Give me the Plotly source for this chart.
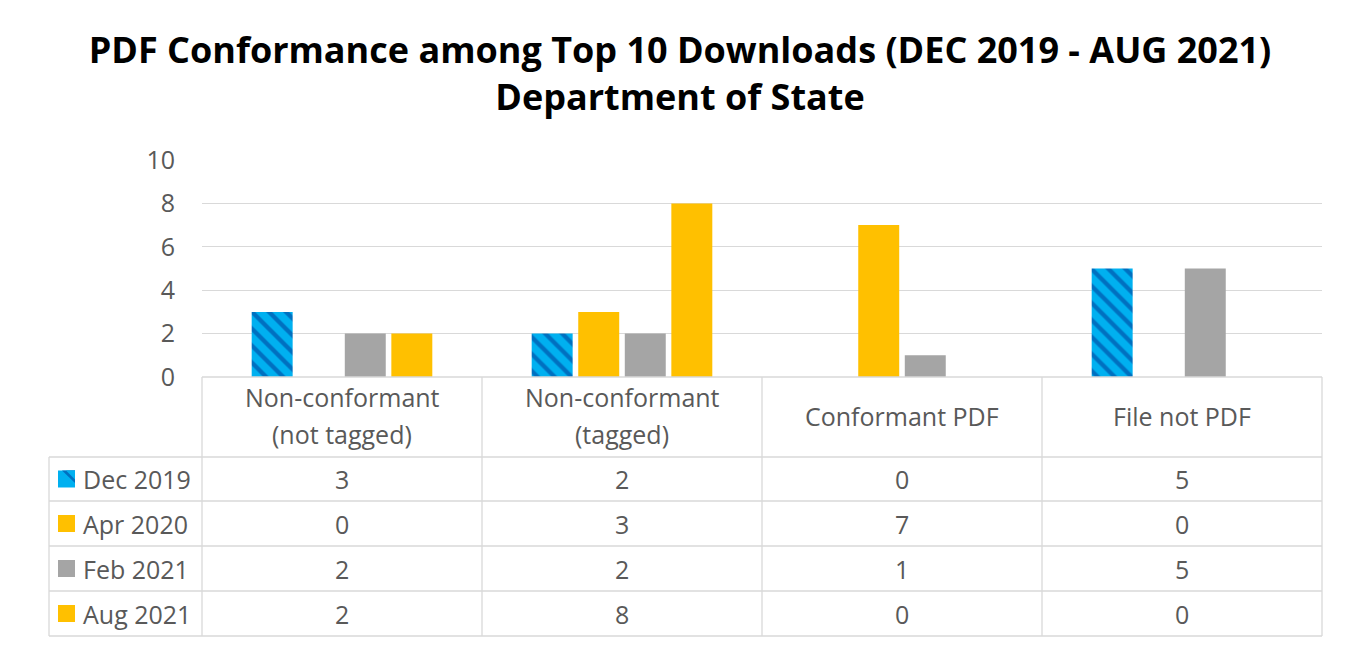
import plotly.graph_objects as go

# ---------------- data ----------------
categories = ["Non-conformant<br>(not tagged)", "Non-conformant<br>(tagged)", "Conformant PDF", "File not PDF"]
series_names = ["Dec 2019", "Apr 2020", "Feb 2021", "Aug 2021"]
dec_2019 = [3, 2, 0, 5]
apr_2020 = [0, 3, 7, 0]
feb_2021 = [2, 2, 1, 5]
aug_2021 = [2, 8, 0, 0]
y_ticks = [0, 2, 4, 6, 8, 10]
title_text = "PDF Conformance among Top 10 Downloads (DEC 2019 - AUG 2021)<br>Department of State"

series_values = [dec_2019, apr_2020, feb_2021, aug_2021]
series_colors = ["#00B0F0", "#FFC000", "#A5A5A5", "#FFC000"]

# ---------------- geometry (screen pixels; page body has an 8px margin) ----------------
OFF = 8
SW, SH = 1345, 649
W, H = SW - OFF, SH - OFF
L, R, T, B = 202, 1322, 160, 377   # plot area in screen pixels
FONT = "Open Sans"
GRAY = "#595959"
LINE = "#D9D9D9"


def px(x):
    return (x - L) / (R - L)


def py(y):
    return (B - y) / (B - T)


fig = go.Figure()
for i, (name, vals, col) in enumerate(zip(series_names, series_values, series_colors)):
    marker = dict(color=col, line=dict(width=0))
    if i == 0:
        marker = dict(color="#00B0F0", line=dict(width=0),
                      pattern=dict(shape="\\", fgcolor="#0070C0", bgcolor="#00B0F0",
                                   size=12, solidity=0.36, fillmode="replace"))
    fig.add_bar(x=list(range(len(categories))), y=vals, name=name, marker=marker,
                showlegend=False)

shapes = []
annotations = []

# table grid
col_edges = [L + k * (R - L) / len(categories) for k in range(len(categories) + 1)]
row_edges = [457, 501, 546, 591, 636]
left_edge = 49
for xe in col_edges:
    shapes.append(dict(type="line", xref="paper", yref="paper", x0=px(xe), x1=px(xe),
                       y0=py(B), y1=py(row_edges[-1]), line=dict(color=LINE, width=1.3)))
shapes.append(dict(type="line", xref="paper", yref="paper", x0=px(left_edge), x1=px(left_edge),
                   y0=py(row_edges[0]), y1=py(row_edges[-1]), line=dict(color=LINE, width=1.3)))
shapes.append(dict(type="line", xref="paper", yref="paper", x0=px(L), x1=px(R),
                   y0=py(B), y1=py(B), line=dict(color=LINE, width=1.3)))
for ye in row_edges:
    shapes.append(dict(type="line", xref="paper", yref="paper", x0=px(left_edge), x1=px(R),
                       y0=py(ye), y1=py(ye), line=dict(color=LINE, width=1.3)))

TF = 25
# category header labels
for k, cat in enumerate(categories):
    cx = (col_edges[k] + col_edges[k + 1]) / 2
    lines = cat.split("<br>")
    ys = [416] if len(lines) == 1 else [397, 434]
    for ln, yy in zip(lines, ys):
        annotations.append(dict(text=ln, xref="paper", yref="paper", x=px(cx), y=py(yy),
                                showarrow=False, xanchor="center", yanchor="middle",
                                font=dict(family=FONT, size=TF, color=GRAY)))

# rows
for r, (name, vals, col) in enumerate(zip(series_names, series_values, series_colors)):
    yc = (row_edges[r] + row_edges[r + 1]) / 2
    # legend key
    shapes.append(dict(type="rect", xref="paper", yref="paper", x0=px(58), x1=px(75),
                       y0=py(yc + 8.5), y1=py(yc - 8.5), fillcolor=col, line=dict(width=0)))
    if r == 0:
        shapes.append(dict(type="path", xref="paper", yref="paper",
                           path="M %f,%f L %f,%f L %f,%f Z" % (px(62), py(yc - 8.5), px(75), py(yc - 8.5), px(75), py(yc + 4)),
                           fillcolor="#0070C0", line=dict(width=0)))
        shapes.append(dict(type="path", xref="paper", yref="paper",
                           path="M %f,%f L %f,%f L %f,%f Z" % (px(66), py(yc - 8.5), px(75), py(yc - 8.5), px(75), py(yc + 0.5)),
                           fillcolor="#00B0F0", line=dict(width=0)))
    annotations.append(dict(text=name, xref="paper", yref="paper", x=px(81), y=py(yc),
                            showarrow=False, xanchor="left", yanchor="middle",
                            font=dict(family=FONT, size=TF, color=GRAY)))
    for k, v in enumerate(vals):
        cx = (col_edges[k] + col_edges[k + 1]) / 2
        annotations.append(dict(text=str(v), xref="paper", yref="paper", x=px(cx), y=py(yc),
                                showarrow=False, xanchor="center", yanchor="middle",
                                font=dict(family=FONT, size=TF, color=GRAY)))

fig.update_layout(
    width=W, height=H,
    margin=dict(l=L - OFF, r=SW - R, t=T - OFF, b=SH - B, pad=0),
    paper_bgcolor="white", plot_bgcolor="white",
    barmode="group", bargap=0.335, bargroupgap=0.12,
    title=dict(text=title_text, x=(680 - OFF) / W, xanchor="center", y=1 - (63 - OFF) / H, yanchor="middle",
               font=dict(family=FONT, size=36, color="#000000", weight="bold")),
    xaxis=dict(range=[-0.5, len(categories) - 0.5], showticklabels=False, showgrid=False,
               zeroline=False, showline=False, ticks=""),
    yaxis=dict(range=[0, 10], tickvals=y_ticks, showgrid=True, gridcolor=LINE, gridwidth=1.3,
               zeroline=False, showline=False, ticks="", ticklabelstandoff=26,
               tickfont=dict(family=FONT, size=TF, color=GRAY)),
    shapes=shapes, annotations=annotations,
)

fig.write_html("out.html")
